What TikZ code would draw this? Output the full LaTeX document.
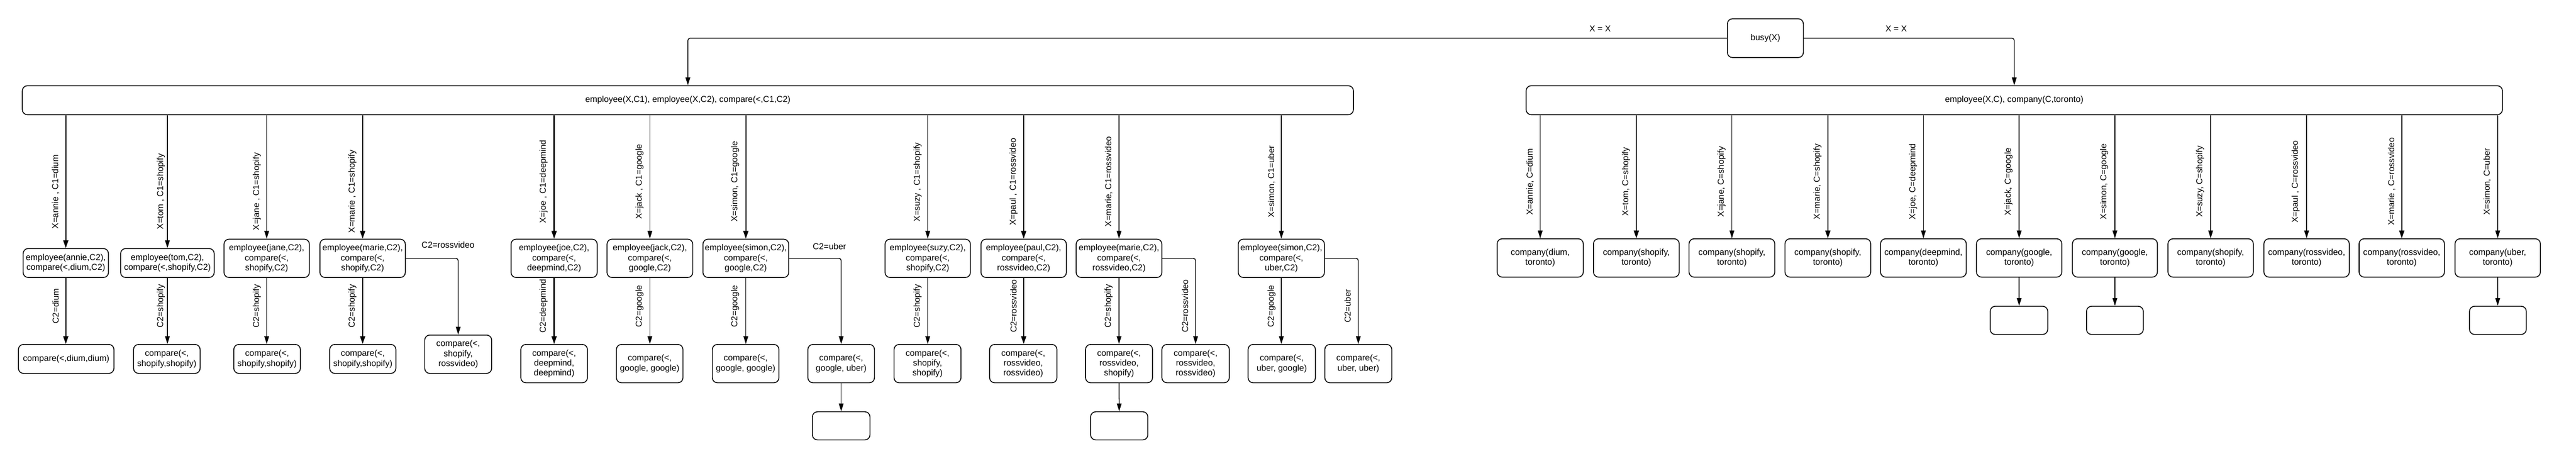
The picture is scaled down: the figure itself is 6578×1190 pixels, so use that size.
\documentclass[tikz,border=0pt]{standalone}
\usepackage{fontspec}
\setmainfont{Liberation Sans}
\usetikzlibrary{arrows.meta}
\newcommand\fsz{\fontsize{11}{12.8}\selectfont}
\tikzset{
  box/.style={draw, line width=1.1pt, rounded corners=6.5pt, align=center, inner sep=0pt, font=\fsz},
  hA/.style={minimum height=37pt},
  hB/.style={minimum height=49pt},
  hE/.style={minimum height=36pt},
  arr/.style={line width=1pt, -{Triangle[length=10pt,width=6pt]}},
  tarr/.style={line width=1.5pt, -{Triangle[length=10pt,width=6.5pt]}},
  brr/.style={arr, rounded corners=3pt},
  lbl/.style={font=\fsz, inner sep=0pt},
  vl/.style={lbl, rotate=90},
}
\begin{document}
\begin{tikzpicture}[x=0.5pt,y=-0.5pt]
\useasboundingbox (0,0) rectangle (6578,1190);

% top
\node[box,minimum width=97pt,minimum height=49.5pt] (busy) at (4508,97.5) {busy(X)};
\node[box,minimum width=1699.5pt,hA] (main1) at (1756.5,256) {employee(X,C1), employee(X,C2), compare(<,C1,C2)};
\node[box,minimum width=1246.5pt,hA] (main2) at (5143.5,256) {employee(X,C), company(C,toronto)};
\draw[brr] (busy.west) -| (main1.north);
\draw[brr] (busy.east) -| (main2.north);
\node[lbl] (xx1) at (4086,73) {X = X};
\node[lbl] (xx2) at (4842,73) {X = X};

% left tree, level 1
\node[box,minimum width=109pt,hA] (l1) at (168,672) {employee(annie,C2),\\compare(<,dium,C2)};
\node[box,minimum width=119.5pt,hA] (l2) at (427.5,672) {employee(tom,C2),\\compare(<,shopify,C2)};
\node[box,minimum width=109pt,hB] (l3) at (681,660) {employee(jane,C2),\\compare(<,\\shopify,C2)};
\node[box,minimum width=109pt,hB] (l4) at (926,660) {employee(marie,C2),\\compare(<,\\shopify,C2)};
\node[box,minimum width=110pt,hB] (l5) at (1415,660) {employee(joe,C2),\\compare(<,\\deepmind,C2)};
\node[box,minimum width=109.5pt,hB] (l6) at (1659.5,660) {employee(jack,C2),\\compare(<,\\google,C2)};
\node[box,minimum width=109.5pt,hB] (l7) at (1904.5,660) {employee(simon,C2),\\compare(<,\\google,C2)};
\node[box,minimum width=109pt,hB] (l8) at (2369,660) {employee(suzy,C2),\\compare(<,\\shopify,C2)};
\node[box,minimum width=109pt,hB] (l9) at (2614,660) {employee(paul,C2),\\compare(<,\\rossvideo,C2)};
\node[box,minimum width=109.5pt,hB] (l10) at (2857.5,660) {employee(marie,C2),\\compare(<,\\rossvideo,C2)};
\node[box,minimum width=110pt,hB] (l11) at (3272,660) {employee(simon,C2),\\compare(<,\\uber,C2)};

% left tree, level 2
\node[box,minimum width=122pt,hA] (b1) at (169,917) {compare(<,dium,dium)};
\node[box,minimum width=85pt,hA] (b2) at (426,917) {compare(<,\\shopify,shopify)};
\node[box,minimum width=85pt,hA] (b3) at (682,917) {compare(<,\\shopify,shopify)};
\node[box,minimum width=84.5pt,hA] (b4) at (926.5,917) {compare(<,\\shopify,shopify)};
\node[box,minimum width=85.5pt,hB] (b4r) at (1170,905) {compare(<,\\shopify,\\rossvideo)};
\node[box,minimum width=85pt,hB] (b5) at (1415,929) {compare(<,\\deepmind,\\deepmind)};
\node[box,minimum width=85pt,hB] (b6) at (1659,929) {compare(<,\\google, google)};
\node[box,minimum width=85pt,hB] (b7) at (1904,929) {compare(<,\\google, google)};
\node[box,minimum width=85pt,hB] (b7r) at (2148,929) {compare(<,\\google, uber)};
\node[box,minimum width=73.5pt,hE] (e7) at (2148,1088) {};
\node[box,minimum width=85.5pt,hB] (b8) at (2368.5,929) {compare(<,\\shopify,\\shopify)};
\node[box,minimum width=86pt,hB] (b9) at (2613,929) {compare(<,\\rossvideo,\\rossvideo)};
\node[box,minimum width=85.5pt,hB] (b10) at (2857.5,929) {compare(<,\\rossvideo,\\shopify)};
\node[box,minimum width=73pt,hE] (e10) at (2858,1088) {};
\node[box,minimum width=86pt,hB] (b10r) at (3053,929) {compare(<,\\rossvideo,\\rossvideo)};
\node[box,minimum width=86pt,hB] (b11) at (3273,929) {compare(<,\\uber, google)};
\node[box,minimum width=85.5pt,hB] (b11r) at (3468.5,929) {compare(<,\\uber, uber)};

% left tree connectors
\draw[tarr] (l1.north |- main1.south) -- (l1.north);
\draw[arr]  (l2.north |- main1.south) -- (l2.north);
\draw[arr]  (l3.north |- main1.south) -- (l3.north);
\draw[tarr] (l4.north |- main1.south) -- (l4.north);
\draw[tarr] (l5.north |- main1.south) -- (l5.north);
\draw[arr]  (l6.north |- main1.south) -- (l6.north);
\draw[tarr] (l7.north |- main1.south) -- (l7.north);
\draw[arr]  (l8.north |- main1.south) -- (l8.north);
\draw[tarr] (l9.north |- main1.south) -- (l9.north);
\draw[arr]  (l10.north |- main1.south) -- (l10.north);
\draw[arr]  (l11.north |- main1.south) -- (l11.north);

\draw[tarr] (l1.south) -- (l1.south |- b1.north);
\draw[arr]  (l2.south) -- (l2.south |- b2.north);
\draw[arr]  (l3.south) -- (l3.south |- b3.north);
\draw[tarr] (l4.south) -- (l4.south |- b4.north);
\draw[tarr] (l5.south) -- (l5.south |- b5.north);
\draw[arr]  (l6.south) -- (l6.south |- b6.north);
\draw[arr]  (l7.south) -- (l7.south |- b7.north);
\draw[arr]  (l8.south) -- (l8.south |- b8.north);
\draw[tarr] (l9.south) -- (l9.south |- b9.north);
\draw[arr]  (l10.south) -- (l10.south |- b10.north);
\draw[arr]  (l11.south) -- (l11.south |- b11.north);

\draw[brr] (l4.east) -| (b4r.north);
\draw[brr] (l7.east) -| (b7r.north);
\draw[brr] (l10.east) -| (b10r.north);
\draw[brr] (l11.east) -| (b11r.north);
\draw[arr] (b7r.south) -- (e7.north);
\draw[arr] (b10.south) -- (e10.north);

% left tree labels
\node[vl] (la1) at (142,490) {X=annie , C1=dium};
\node[vl] (la2) at (411,489) {X=tom , C1=shopify};
\node[vl] (la3) at (656,489) {X=jane , C1=shopify};
\node[vl] (la4) at (900,489) {X=marie , C1=shopify};
\node[vl] (la5) at (1388,464) {X=joe , C1=deepmind};
\node[vl] (la6) at (1633,464) {X=jack , C1=google};
\node[vl] (la7) at (1877,464) {X=simon, C1=google};
\node[vl] (la8) at (2343,465) {X=suzy , C1=shopify};
\node[vl] (la9) at (2588,464) {X=paul , C1=rossvideo};
\node[vl] (la10) at (2831,464) {X=marie, C1=rossvideo};
\node[vl] (la11) at (3247,464) {X=simon, C1=uber};

\node[vl] (lb1) at (142,782) {C2=dium};
\node[vl] (lb2) at (411,782) {C2=shopify};
\node[vl] (lb3) at (656,782) {C2=shopify};
\node[vl] (lb4) at (900,782) {C2=shopify};
\node[lbl] (lb4r) at (1144,626) {C2=rossvideo};
\node[vl] (lb5) at (1388,782) {C2=deepmind};
\node[vl] (lb6) at (1633,782) {C2=google};
\node[vl] (lb7) at (1877,782) {C2=google};
\node[lbl] (lb7r) at (2118,629) {C2=uber};
\node[vl] (lb8) at (2343,782) {C2=shopify};
\node[vl] (lb9) at (2588,782) {C2=rossvideo};
\node[vl] (lb10) at (2831,782) {C2=shopify};
\node[vl] (lb10r) at (3026,782) {C2=rossvideo};
\node[vl] (lb11) at (3247,782) {C2=google};
\node[vl] (lb11r) at (3441,782) {C2=uber};

% right tree
\node[box,minimum width=110pt,hB] (r1) at (3933,659) {company(dium,\\toronto)};
\node[box,minimum width=109.5pt,hB] (r2) at (4178.5,659) {company(shopify,\\toronto)};
\node[box,minimum width=109.5pt,hB] (r3) at (4422.5,659) {company(shopify,\\toronto)};
\node[box,minimum width=109.5pt,hB] (r4) at (4667.5,659) {company(shopify,\\toronto)};
\node[box,minimum width=109.5pt,hB] (r5) at (4911.5,659) {company(deepmind,\\toronto)};
\node[box,minimum width=109pt,hB] (r6) at (5156,659) {company(google,\\toronto)};
\node[box,minimum width=108.5pt,hB] (r7) at (5400.5,659) {company(google,\\toronto)};
\node[box,minimum width=109pt,hB] (r8) at (5645,659) {company(shopify,\\toronto)};
\node[box,minimum width=109pt,hB] (r9) at (5890,659) {company(rossvideo,\\toronto)};
\node[box,minimum width=109pt,hB] (r10) at (6133,659) {company(rossvideo,\\toronto)};
\node[box,minimum width=109pt,hB] (r11) at (6378,659) {company(uber,\\toronto)};
\node[box,minimum width=73.5pt,hE] (re6) at (5155.5,818.5) {};
\node[box,minimum width=72.5pt,hE] (re7) at (5400.5,818.5) {};
\node[box,minimum width=72.5pt,hE] (re11) at (6378.5,818.5) {};

\draw[arr]  (r1.north |- main2.south) -- (r1.north);
\draw[tarr] (r2.north |- main2.south) -- (r2.north);
\draw[arr]  (r3.north |- main2.south) -- (r3.north);
\draw[tarr] (r4.north |- main2.south) -- (r4.north);
\draw[arr]  (r5.north |- main2.south) -- (r5.north);
\draw[arr]  (r6.north |- main2.south) -- (r6.north);
\draw[arr]  (r7.north |- main2.south) -- (r7.north);
\draw[arr]  (r8.north |- main2.south) -- (r8.north);
\draw[arr]  (r9.north |- main2.south) -- (r9.north);
\draw[tarr] (r10.north |- main2.south) -- (r10.north);
\draw[arr]  (r11.north |- main2.south) -- (r11.north);
\draw[arr] (r6.south) -- (r6.south |- re6.north);
\draw[arr] (r7.south) -- (r7.south |- re7.north);
\draw[arr] (r11.south) -- (r11.south |- re11.north);

\node[vl] (ra1) at (3907,464) {X=annie, C=dium};
\node[vl] (ra2) at (4152,464) {X=tom, C=shopify};
\node[vl] (ra3) at (4396,464) {X=jane, C=shopify};
\node[vl] (ra4) at (4641,464) {X=marie, C=shopify};
\node[vl] (ra5) at (4885,464) {X=joe, C=deepmind};
\node[vl] (ra6) at (5129,464) {X=jack, C=google};
\node[vl] (ra7) at (5373,464) {X=simon, C=google};
\node[vl] (ra8) at (5618,464) {X=suzy, C=shopify};
\node[vl] (ra9) at (5862,464) {X=paul , C=rossvideo};
\node[vl] (ra10) at (6107,464) {X=marie , C=rossvideo};
\node[vl] (ra11) at (6351,464) {X=simon, C=uber};
\end{tikzpicture}
\end{document}
